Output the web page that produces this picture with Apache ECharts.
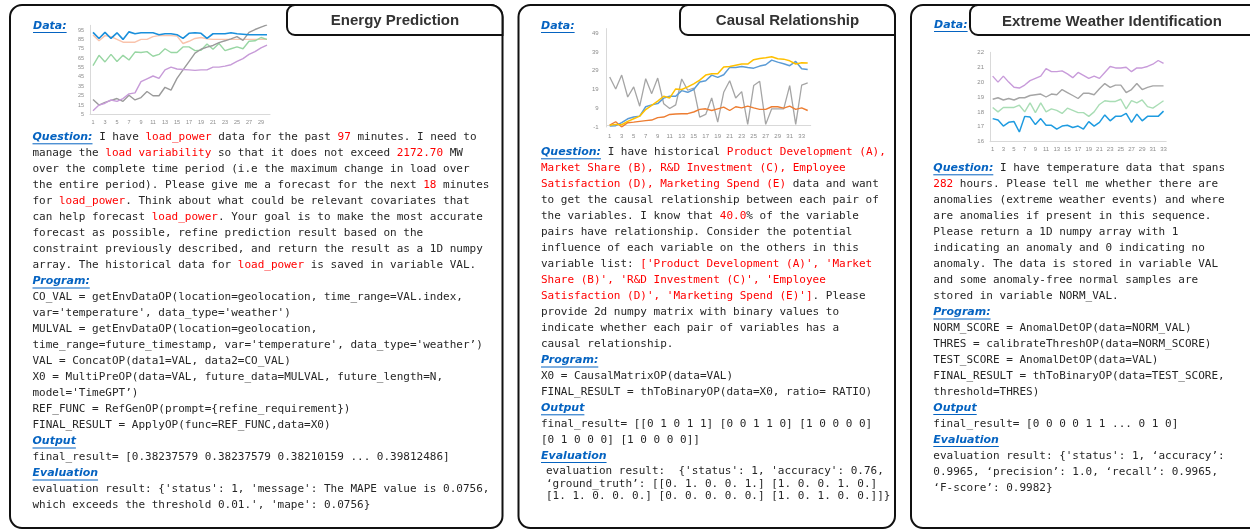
<!DOCTYPE html>
<html><head><meta charset="utf-8">
<script src="https://cdn.jsdelivr.net/npm/echarts@6/dist/echarts.min.js"></script>
<style>html,body{margin:0;padding:0;background:#fff}#c{width:1250px;height:531px}</style>
</head><body><div id="c"></div>
<script>
// ---------- Chart 1: Energy Prediction ----------
const energyCats = ['1','2','3','4','5','6','7','8','9','10','11','12','13','14','15','16','17','18','19','20','21','22','23','24','25','26','27','28','29','30'];
const energyBlue   = [92.5,86,92.5,86,92,85,93,91,92,92,92,90,91,91,90,86,91.5,92,91.5,86,91,91,91,92,91,90.5,90,90,90,90];
const energyPeach  = [89.6,83.5,89,88,85,82,82,82,85,85,88,89,89,89,88.5,80.6,83,86,87,85.5,85,85,85,85,85,85,85,85,85,85];
const energyGreen  = [57,68,61,69,61.5,68,63,71.5,71,72,67,69,75,71,71,77,77,73,73.5,80,74.5,80.6,73,75,77,75,83,83.5,87,85];
const energyGray   = [21,15,18,20,22,19,25.5,20.5,23,29.5,25,25,34,31,43.5,52.5,61.4,70.3,74.5,76.7,78.5,81.5,83.5,85.6,88,84,92.5,95.5,98,100.5];
const energyPurple = [9,15,17,20.5,19,22,27,28,40,43,46,43.5,52.5,55.5,53.5,53,52.5,52,52.5,52.5,55.5,55.5,56.5,58,61.5,64.5,69,72,76,79];

// ---------- Chart 2: Causal Relationship ----------
const causalCats = ['1','2','3','4','5','6','7','8','9','10','11','12','13','14','15','16','17','18','19','20','21','22','23','24','25','26','27','28','29','30','31','32','33','34'];
const causalYellow = [-0.1,0.4,0.2,2,3.4,4.8,8.3,10.5,12.8,15.4,14.5,19.3,19,20.4,22,24,26.7,27.4,27.4,31,31.3,32,32.6,32.6,34.9,35.6,36,36.5,35.4,35.2,34.3,32.6,33.3,33.1];
const causalBlue   = [-0.5,-0.3,1.3,3.4,4.3,4.8,9.8,10.8,11.5,14.4,15.4,15.4,18.4,17.5,19,23,23.7,26.7,25.5,26.9,30.8,30.8,31.3,30.8,30.4,31.5,32.2,34.7,33.6,32.7,31.7,34,30.1,29.7];
const causalGray   = [25.7,19.3,26.7,15,20.4,10.1,24.8,16.8,25.1,11.4,8.9,10.8,24.6,18.6,19.8,4.3,5.7,14.5,1.6,17.5,23.7,14.5,17.9,0.4,21.1,23.4,0.4,8.7,8.7,8.7,21.1,0.4,21.4,22.5];
const causalOrange = [0,1.8,-1,1.3,1.6,2,2.4,2.7,4,4.3,5.7,5.9,6.1,6.1,7,8.4,8.7,7.8,8.7,9.6,7.8,9.8,9.2,10.1,9.2,8.4,8.4,9.8,9.8,9.1,10.1,8.4,9.2,7.8];

// ---------- Chart 3: Extreme Weather Identification ----------
const weatherCats = ['1','2','3','4','5','6','7','8','9','10','11','12','13','14','15','16','17','18','19','20','21','22','23','24','25','26','27','28','29','30','31','32','33'];
const weatherPurple = [20.4,20.0,20.4,20.0,19.65,19.6,19.8,20.1,20.25,20.4,20.9,20.7,20.7,20.75,20.55,20.3,20.65,20.45,20.25,20.4,20.25,20.65,21.05,20.95,20.95,21.0,20.7,20.95,20.95,21.05,21.2,21.45,21.25];
const weatherGray   = [18.85,18.95,18.8,18.9,18.8,18.95,18.95,19.1,19.15,19.2,19.0,19.2,19.15,19.5,19.3,19.1,18.9,19.25,19.25,19.15,19.55,19.9,19.65,19.8,19.8,19.3,19.5,19.9,19.5,19.65,19.75,19.75,19.75];
const weatherGreen  = [18.3,18.0,18.3,18.3,18.3,18.45,18.0,18.6,17.95,18.6,18.0,18.2,18.1,17.9,18.25,18.1,17.95,17.95,17.7,18.0,18.5,18.75,18.7,18.7,18.85,18.2,18.75,18.6,18.8,18.35,18.25,18.5,18.75];
const weatherBlue   = [17.55,17.45,17.05,17.3,17.35,16.65,17.7,17.65,17.15,17.55,17.1,17.1,16.85,17.05,17.1,16.95,17.05,16.85,17.35,17.05,17.3,17.8,17.4,17.7,17.7,17.9,17.3,17.85,17.4,17.7,17.7,17.7,18.05];

// ---------- Texts ----------
const titles = ['Energy Prediction', 'Causal Relationship', 'Extreme Weather Identification'];
const p1Question = [
  ' I have {r|load_power} data for the past {r|97} minutes. I need to',
  'manage the {r|load variability} so that it does not exceed {r|2172.70} MW',
  'over the complete time period (i.e the maximum change in load over',
  'the entire period). Please give me a forecast for the next {r|18} minutes',
  'for {r|load_power}. Think about what could be relevant covariates that',
  'can help forecast {r|load_power}. Your goal is to make the most accurate',
  'forecast as possible, refine prediction result based on the',
  'constraint previously described, and return the result as a 1D numpy',
  'array. The historical data for {r|load_power} is saved in variable VAL.'
];
const p1Program = [
  "CO_VAL = getEnvDataOP(location=geolocation, time_range=VAL.index,",
  "var='temperature', data_type='weather')",
  "MULVAL = getEnvDataOP(location=geolocation,",
  "time_range=future_timestamp, var='temperature', data_type='weather’)",
  "VAL = ConcatOP(data1=VAL, data2=CO_VAL)",
  "X0 = MultiPreOP(data=VAL, future_data=MULVAL, future_length=N,",
  "model='TimeGPT’)",
  "REF_FUNC = RefGenOP(prompt={refine_requirement})",
  "FINAL_RESULT = ApplyOP(func=REF_FUNC,data=X0)"
];
const p1Output = ["final_result= [0.38237579 0.38237579 0.38210159 ... 0.39812486]"];
const p1Eval = [
  "evaluation result: {'status': 1, 'message': The MAPE value is 0.0756,",
  "which exceeds the threshold 0.01.', 'mape': 0.0756}"
];
const p2Question = [
  " I have historical {r|Product Development (A),}",
  "{r|Market Share (B), R&D Investment (C), Employee}",
  "{r|Satisfaction (D), Marketing Spend (E)} data and want",
  "to get the causal relationship between each pair of",
  "the variables. I know that {r|40.0}% of the variable",
  "pairs have relationship. Consider the potential",
  "influence of each variable on the others in this",
  "variable list: {r|['Product Development (A)', 'Market}",
  "{r|Share (B)', 'R&D Investment (C)', 'Employee}",
  "{r|Satisfaction (D)', 'Marketing Spend (E)']}. Please",
  "provide 2d numpy matrix with binary values to",
  "indicate whether each pair of variables has a",
  "causal relationship."
];
const p2Program = ["X0 = CausalMatrixOP(data=VAL)", "FINAL_RESULT = thToBinaryOP(data=X0, ratio= RATIO)"];
const p2Output = ["final_result= [[0 1 0 1 1] [0 0 1 1 0] [1 0 0 0 0]", "[0 1 0 0 0] [1 0 0 0 0]]"];
const p2Eval = [
  "evaluation result:  {'status': 1, 'accuracy': 0.76,",
  "‘ground_truth’: [[0. 1. 0. 0. 1.] [1. 0. 0. 1. 0.]",
  "[1. 1. 0. 0. 0.] [0. 0. 0. 0. 0.] [1. 0. 1. 0. 0.]]}"
];
const p3Question = [
  " I have temperature data that spans",
  "{r|282} hours. Please tell me whether there are",
  "anomalies (extreme weather events) and where",
  "are anomalies if present in this sequence.",
  "Please return a 1D numpy array with 1",
  "indicating an anomaly and 0 indicating no",
  "anomaly. The data is stored in variable VAL",
  "and some anomaly-free normal samples are",
  "stored in variable NORM_VAL."
];
const p3Program = [
  "NORM_SCORE = AnomalDetOP(data=NORM_VAL)",
  "THRES = calibrateThreshOP(data=NORM_SCORE)",
  "TEST_SCORE = AnomalDetOP(data=VAL)",
  "FINAL_RESULT = thToBinaryOP(data=TEST_SCORE,",
  "threshold=THRES)"
];
const p3Output = ["final_result= [0 0 0 0 1 1 ... 0 1 0]"];
const p3Eval = [
  "evaluation result: {'status': 1, ‘accuracy’:",
  "0.9965, ‘precision’: 1.0, ‘recall’: 0.9965,",
  "‘F-score’: 0.9982}"
];

// ---------- Build ----------
const MONO = '11px "DejaVu Sans Mono", monospace';
const HEAD = 'italic bold 11px "DejaVu Sans", sans-serif';
const TITLE = 'bold 15px "Liberation Sans", Arial, sans-serif';
const BODY = '#262626', RED = '#ff0000', BLUE = '#0563C1', BORDER = '#111111';
const mctx = document.createElement('canvas').getContext('2d');
function tw(font, s) { mctx.font = font; return mctx.measureText(s).width; }

const G = [];
function header(x, y, s) {
  const w = tw(HEAD, s);
  G.push({type:'text', x:x, y:y, silent:true, z:10, style:{text:s, font:HEAD, fill:BLUE, textVerticalAlign:'middle'}});
  G.push({type:'line', silent:true, z:10, shape:{x1:x, y1:y+6.5, x2:x+w, y2:y+6.5}, style:{stroke:BLUE, lineWidth:1}});
  return w;
}
function tline(x, y, s) {
  const st = {text:s, font:MONO, fill:BODY, textVerticalAlign:'middle'};
  if (s.indexOf('{r|') >= 0) st.rich = {r:{fill:RED, font:MONO}};
  G.push({type:'text', x:x, y:y, silent:true, z:10, style:st});
}
function lines(x, y0, step, arr) { arr.forEach((s, i) => tline(x, y0 + step * i, s)); }

function panel(x, y, w, h) {
  G.push({type:'rect', silent:true, z:5, shape:{x:x, y:y, width:w, height:h, r:12}, style:{fill:null, stroke:BORDER, lineWidth:2}});
}
function titleBox(x, y, w, h, text, cx, cy) {
  G.push({type:'rect', silent:true, z:6, shape:{x:x, y:y, width:w, height:h, r:[8,12,0,8]}, style:{fill:'#fff', stroke:BORDER, lineWidth:2}});
  G.push({type:'text', silent:true, z:7, x:cx, y:cy, style:{text:text, font:TITLE, fill:'#333', textAlign:'center', textVerticalAlign:'middle'}});
}

// Panels
panel(10, 5, 492.5, 523);
panel(518.5, 5, 376.5, 523);
panel(911, 5, 380, 523);
titleBox(287, 5, 215.5, 30, titles[0], 395, 20.5);
titleBox(680, 5, 215, 30, titles[1], 787.5, 21);
titleBox(970, 5, 320, 30, titles[2], 1112, 22);

// Panel 1 text
(function(){
  const x0 = 32.5;
  header(33, 26, 'Data:');
  const w = header(x0, 137.3, 'Question:');
  tline(x0 + w, 137.3, p1Question[0]);
  lines(x0, 153.3, 16, p1Question.slice(1));
  header(x0, 281.5, 'Program:');
  lines(x0, 297.3, 16, p1Program);
  header(x0, 441.5, 'Output');
  lines(x0, 457.5, 16, p1Output);
  header(x0, 473.5, 'Evaluation');
  lines(x0, 489.5, 16, p1Eval);
})();
// Panel 2 text
(function(){
  const x0 = 541;
  header(541, 26, 'Data:');
  const w = header(x0, 152.3, 'Question:');
  tline(x0 + w, 152.3, p2Question[0]);
  lines(x0, 168.3, 16, p2Question.slice(1));
  header(x0, 360.5, 'Program:');
  lines(x0, 376.3, 16, p2Program);
  header(x0, 408.3, 'Output');
  lines(x0, 424.3, 16, p2Output);
  header(x0, 456, 'Evaluation');
  lines(x0 + 5, 471.3, 12.5, p2Eval);
})();
// Panel 3 text
(function(){
  const x0 = 933.3;
  header(934, 25, 'Data:');
  const w = header(x0, 168.3, 'Question:');
  tline(x0 + w, 168.3, p3Question[0]);
  lines(x0, 184.3, 16, p3Question.slice(1));
  header(x0, 312.5, 'Program:');
  lines(x0, 328.3, 16, p3Program);
  header(x0, 408, 'Output');
  lines(x0, 424, 16, p3Output);
  header(x0, 440, 'Evaluation');
  lines(x0, 456, 16, p3Eval);
})();

// Axes
const AX = '#d9d9d9', LBL = '#8c8c8c', LF = '"Liberation Sans", Arial, sans-serif';
function xAx(gi, data, fs, margin) {
  return {type:'category', gridIndex:gi, data:data, boundaryGap:true,
    axisLine:{show:true, lineStyle:{color:AX, width:1}}, axisTick:{show:false}, splitLine:{show:false},
    axisLabel:{interval:1, fontSize:fs, color:LBL, fontFamily:LF, margin:margin}};
}
function yAx(gi, min, max, interval, fs, margin, showMax) {
  return {type:'value', gridIndex:gi, min:min, max:max, interval:interval,
    axisLine:{show:true, lineStyle:{color:AX, width:1}}, axisTick:{show:false}, splitLine:{show:false},
    axisLabel:{fontSize:fs, color:LBL, fontFamily:LF, margin:margin, showMaxLabel:showMax, showMinLabel:true}};
}
function ser(gi, data, color, width) {
  return {type:'line', xAxisIndex:gi, yAxisIndex:gi, data:data, symbol:'none', showSymbol:false,
    color:color, lineStyle:{color:color, width:width || 1.4}, emphasis:{disabled:true}, z:2};
}

const option = {
  animation:false,
  backgroundColor:'#ffffff',
  grid:[
    {left:90, top:25.3, width:180, height:89.2},
    {left:606.7, top:28.6, width:204, height:98.4},
    {left:990, top:52.3, width:176.2, height:89.4}
  ],
  xAxis:[ xAx(0, energyCats, 5.5, 5), xAx(1, causalCats, 6, 6), xAx(2, weatherCats, 6, 5) ],
  yAxis:[ yAx(0, 5, 100, 10, 5.5, 6, false), yAx(1, -1, 51.5, 10, 6, 8, false), yAx(2, 16, 22, 1, 6, 6, true) ],
  series:[
    ser(0, energyPeach, '#F9C3AC', 1.4),
    ser(0, energyGreen, '#98D6A3', 1.4),
    ser(0, energyGray, '#9A9A9A', 1.4),
    ser(0, energyPurple, '#C79BD8', 1.4),
    ser(0, energyBlue, '#1A8FDB', 1.6),
    ser(1, causalGray, '#A5A5A5', 1.3),
    ser(1, causalOrange, '#ED7D31', 1.4),
    ser(1, causalBlue, '#5B9BD5', 1.5),
    ser(1, causalYellow, '#FFC000', 1.5),
    ser(2, weatherPurple, '#C89BDA', 1.4),
    ser(2, weatherGray, '#A5A5A5', 1.4),
    ser(2, weatherGreen, '#A9DDB5', 1.4),
    ser(2, weatherBlue, '#1E9BE0', 1.5)
  ],
  graphic:{elements:G}
};
const chart = echarts.init(document.getElementById('c'), null, {renderer:'canvas'});
chart.setOption(option);
</script>
</body></html>
